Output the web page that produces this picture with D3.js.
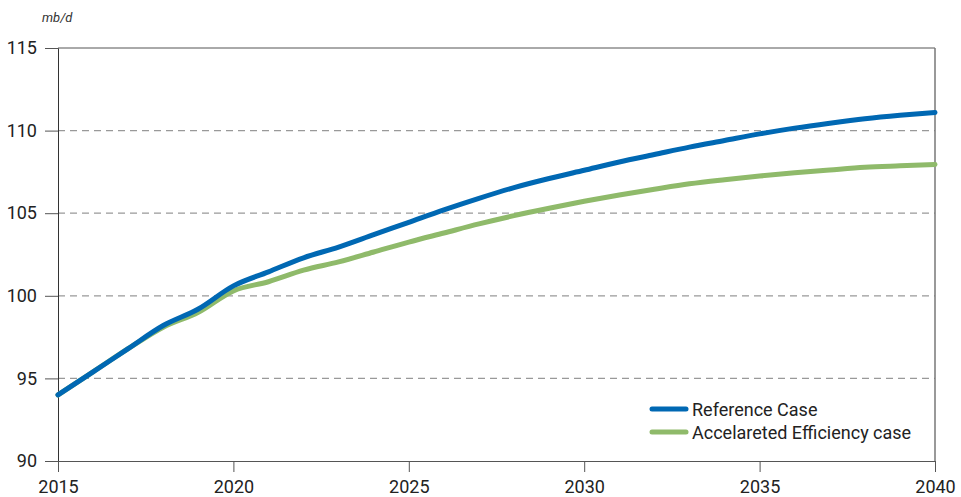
<!DOCTYPE html>
<html><head><meta charset="utf-8">
<script src="https://cdn.jsdelivr.net/npm/d3@7"></script>
<style>body{margin:0;background:#fff}svg{display:block}text{font-family:Roboto,"Liberation Sans",sans-serif}</style>
</head><body><svg id="c" width="961" height="497"></svg>
<script>
const years = d3.range(2015, 2041);
const referenceCase = [94.0,95.4,96.8,98.2,99.2,100.6,101.45,102.3,102.95,103.7,104.45,105.2,105.9,106.55,107.1,107.6,108.1,108.55,109.0,109.4,109.8,110.15,110.45,110.72,110.93,111.1];
const acceleratedEfficiency = [94.0,95.4,96.8,98.1,99.0,100.3,100.85,101.55,102.05,102.65,103.25,103.8,104.35,104.85,105.3,105.72,106.1,106.45,106.78,107.03,107.25,107.45,107.62,107.78,107.87,107.95];
const yTicks = [90,95,100,105,110,115];
const xTicks = [2015,2020,2025,2030,2035,2040];
const seriesNames = ["Reference Case","Accelareted Efficiency case"];
const colors = ["#0068b3","#8fba6a"];

const svg = d3.select("#c");
const L=58,R=935,T=48,B=461;
const x = d3.scaleLinear().domain([2015,2040]).range([L,R]);
const y = d3.scaleLinear().domain([90,115]).range([B,T]);

svg.append("g").selectAll("line").data(yTicks.filter(v=>v>90&&v<115)).join("line")
  .attr("x1",L).attr("x2",R).attr("y1",d=>y(d)).attr("y2",d=>y(d))
  .attr("stroke","#999").attr("stroke-width",1.2).attr("stroke-dasharray","7,5");

const ya = svg.append("g").attr("transform",`translate(${L},0)`)
  .call(d3.axisLeft(y).tickValues(yTicks).tickSize(13).tickPadding(8).tickFormat(d3.format("d")));
ya.select(".domain").attr("stroke","#333");
ya.selectAll(".tick line").attr("stroke","#555");
ya.selectAll("text").attr("font-size",18).attr("fill","#222");

const xa = svg.append("g").attr("transform",`translate(0,${B})`)
  .call(d3.axisBottom(x).tickValues(xTicks).tickSize(11).tickPadding(8).tickFormat(d3.format("d")));
xa.select(".domain").attr("stroke","#555");
xa.selectAll(".tick line").attr("stroke","#555");
xa.selectAll("text").attr("font-size",18).attr("fill","#222");

svg.append("line").attr("x1",L).attr("x2",R).attr("y1",T).attr("y2",T).attr("stroke","#555");
svg.append("line").attr("x1",R).attr("x2",R).attr("y1",T).attr("y2",B).attr("stroke","#777").attr("stroke-width",1.5);

svg.append("text").attr("x",42).attr("y",22).attr("font-size",13).attr("font-style","italic").attr("fill","#333").text("mb/d");

const line = d3.line().x((d,i)=>x(years[i])).y(d=>y(d)).curve(d3.curveMonotoneX);
[acceleratedEfficiency, referenceCase].forEach((s,k)=>{
  svg.append("path").attr("d",line(s)).attr("fill","none")
    .attr("stroke", k===0?colors[1]:colors[0]).attr("stroke-width",5).attr("stroke-linecap","round");
});

const lg = svg.append("g");
seriesNames.forEach((n,i)=>{
  const yy = 409 + i*23;
  lg.append("line").attr("x1",652).attr("x2",686).attr("y1",yy).attr("y2",yy)
    .attr("stroke",colors[i]).attr("stroke-width",5).attr("stroke-linecap","round");
  lg.append("text").attr("x",692).attr("y",yy+6.5).attr("font-size",18).attr("fill","#222").text(n);
});
</script></body></html>
